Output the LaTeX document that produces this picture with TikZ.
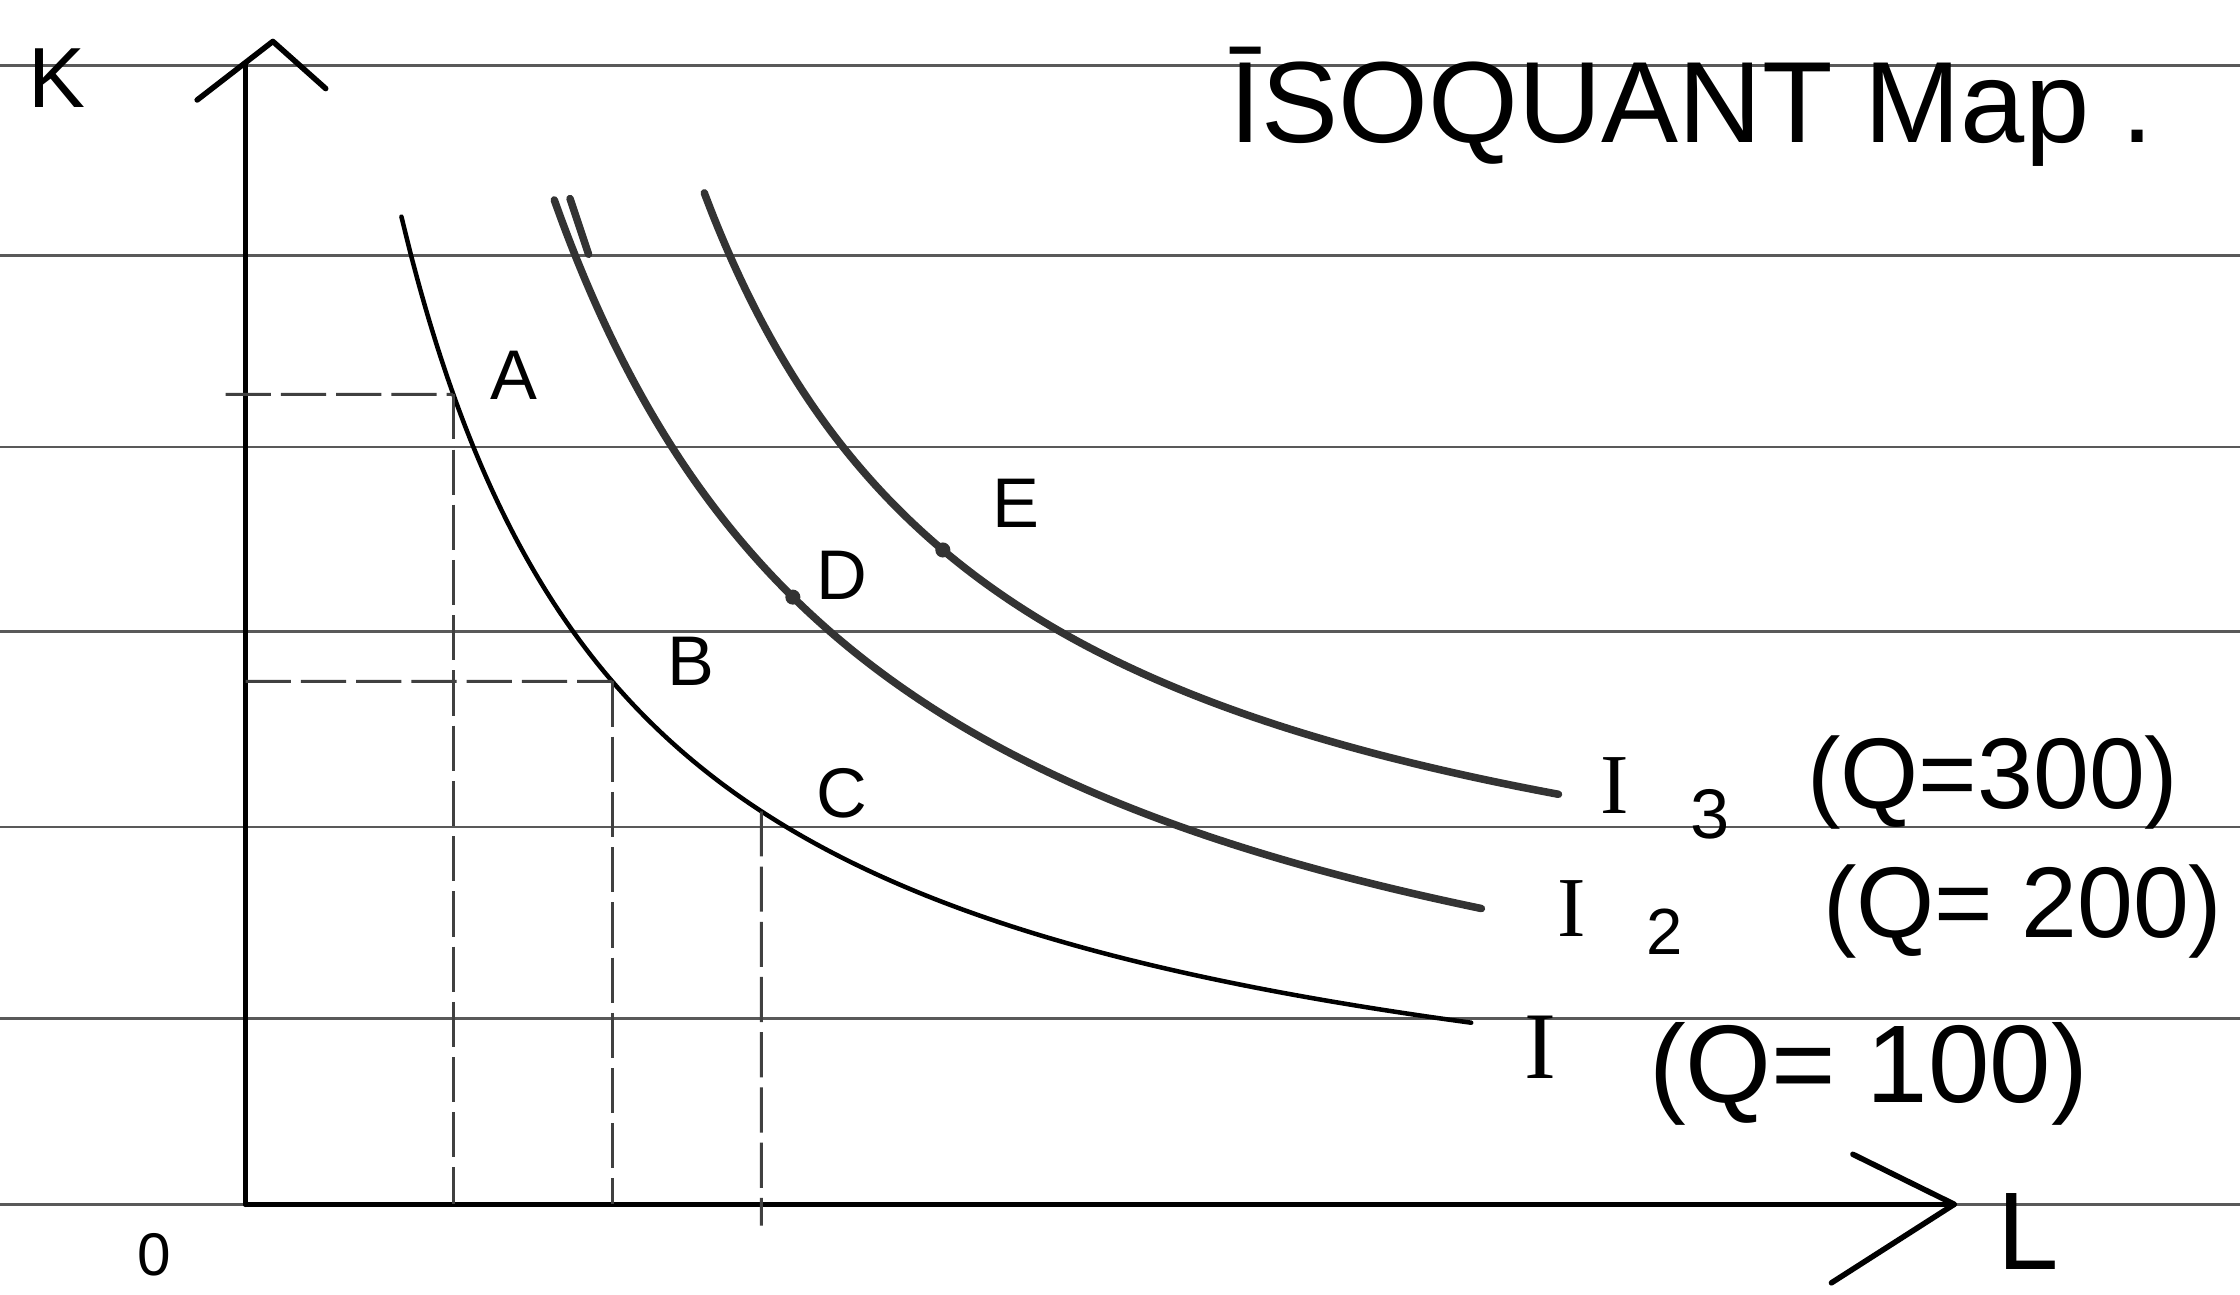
\documentclass[tikz,border=0pt]{standalone}
\usepackage{fontspec}
\setmainfont{Liberation Sans}
\newfontfamily\serifI{Liberation Serif}
\newcommand{\myfs}[1]{\fontsize{#1}{#1}\selectfont}
\usetikzlibrary{intersections}
\begin{document}
\begin{tikzpicture}[x=0.1mm,y=-0.1mm,
  ruled/.style={black!65, line width=0.5pt},
  axisline/.style={black, line width=1.1pt, line cap=round, line join=round},
  isoA/.style={black, line width=0.9pt, line cap=round},
  isoB/.style={black!80, line width=1.5pt, line cap=round},
  guide/.style={black!75, line width=0.6pt, dash pattern=on 9pt off 2pt},
  ptlabel/.style={font=\myfs{14}, inner sep=0pt},
  hand/.style={inner sep=0pt},
  pdot/.style={circle, fill=black!80, inner sep=0pt, minimum size=3pt}]
\useasboundingbox (0,0) rectangle (1568,906);
\fill[white] (0,0) rectangle (1568,906);
% ruled paper lines
\foreach \yy in {46,179,313,442,579,713,843}
  \draw[ruled] (0,\yy) -- (1568,\yy);
% axes
\coordinate (O) at (172,843);
\coordinate (Ytop) at (172,45);
\coordinate (YarL) at (138,70);
\coordinate (YarP) at (191,29);
\coordinate (YarR) at (228,62);
\coordinate (Xtip) at (1368,843);
\coordinate (XarU) at (1297,808);
\coordinate (XarD) at (1282,898);
\draw[axisline] (O) -- (Ytop);
\draw[axisline] (YarL) -- (YarP) -- (YarR);
\draw[axisline] (O) -- (Xtip);
\draw[axisline] (XarU) -- (Xtip) -- (XarD);
% isoquant I (Q=100)
\draw[isoA, name path=curveI] plot[domain=2.81:10.30, samples=120, smooth] ({100*\x},{840-1133.65/(\x-1.163)});
% isoquant I2 (Q=200)
\draw[isoB, name path=curveII] plot[domain=3.88:10.37, samples=120, smooth] ({100*\x},{821-1648.75/(\x-1.459)});
\draw[isoB] (399,139) -- (412,178);
% isoquant I3 (Q=300)
\draw[isoB, name path=curveIII] plot[domain=4.93:10.91, samples=120, smooth] ({100*\x},{707.8-1234.87/(\x-2.774)});
% points
\path[name path=hA] (150,276) -- (700,276);
\path[name path=hB] (150,477) -- (700,477);
\path[name path=vC] (533,100) -- (533,900);
\path[name intersections={of=curveI and hA, by=A}];
\path[name intersections={of=curveI and hB, by=B}];
\path[name intersections={of=curveI and vC, by=C}];
\coordinate (D) at (555,418);
\coordinate (E) at (660,385);
% guide lines
\coordinate (KA) at (158,276);
\coordinate (KB) at (172,477);
\coordinate (Cb) at (533,858);
\draw[guide] (KA) -- (A);
\draw[guide] (KB) -- (B);
\draw[guide] (A) -- (A |- O);
\draw[guide] (B) -- (B |- O);
\draw[guide] (C) -- (Cb);
% dots
\node[pdot] (Ddot) at (D) {};
\node[pdot] (Edot) at (E) {};
% point labels
\node[ptlabel] (lA) at (360,263) {A};
\node[ptlabel] (lB) at (484,463) {B};
\node[ptlabel] (lC) at (589,555) {C};
\node[ptlabel] (lD) at (589,403) {D};
\node[ptlabel] (lE) at (711,352) {E};
% axis labels
\node[hand, font=\myfs{17}] (lK) at (40,55) {K};
\node[hand, font=\myfs{12}] (lO) at (108,878) {0};
\node[hand, font=\myfs{22}] (lL) at (1420,862) {L};
% title
\node[hand, anchor=base west, font=\myfs{23}] (title) at (860,100) {ĪSOQUANT Map .};
% curve labels
\node[hand, font=\serifI\myfs{17}] (I3) at (1130,550) {I};
\node[hand, font=\myfs{14}] (s3) at (1197,570) {3};
\node[hand, font=\myfs{20}] (q3) at (1395,548) {(Q=300)};
\node[hand, font=\serifI\myfs{17}] (I2) at (1100,636) {I};
\node[hand, font=\myfs{13}] (s2) at (1165,652) {2};
\node[hand, font=\myfs{20}] (q2) at (1416,638) {(Q= 200)};
\node[hand, font=\serifI\myfs{19}] (I1) at (1078,733) {I};
\node[hand, font=\myfs{22}] (q1) at (1308,752) {(Q= 100)};
\end{tikzpicture}
\end{document}
